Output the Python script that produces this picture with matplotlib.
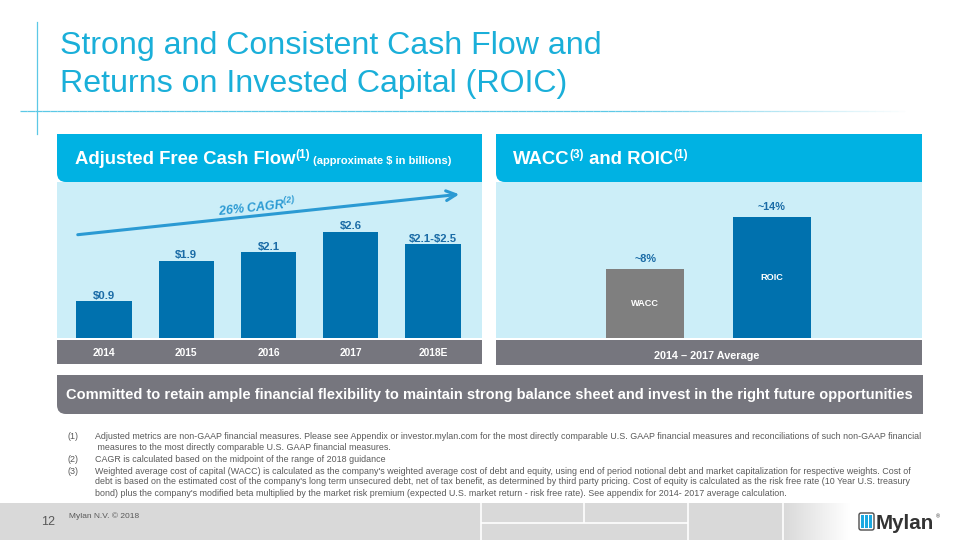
import numpy as np
import matplotlib
matplotlib.use("Agg")
import matplotlib.pyplot as plt
from matplotlib.path import Path
from matplotlib.patches import PathPatch, Rectangle, FancyBboxPatch
from matplotlib.collections import LineCollection
from matplotlib.colors import LinearSegmentedColormap, to_rgba

plt.rcParams["font.family"] = ["Liberation Sans", "DejaVu Sans"]
plt.rcParams["mathtext.fontset"] = "custom"
plt.rcParams["mathtext.rm"] = "Liberation Sans:italic:bold"

# data
years = ["2014", "2015", "2016", "2017", "2018E"]
fcf = [0.9, 1.9, 2.1, 2.6, 2.3]          # 2018E drawn at midpoint of guidance
fcf_labels = ["$0.9", "$1.9", "$2.1", "$2.6", "$2.1-$2.5"]
metrics = ["WACC", "ROIC"]
rates = [8, 14]
rate_labels = ["~8%", "~14%"]
footnotes = [
    ("(1)", "Adjusted metrics are non-GAAP financial measures. Please see Appendix or investor.mylan.com for the most directly comparable U.S. GAAP financial measures and reconciliations of such non-GAAP financial"),
    ("", " measures to the most directly comparable U.S. GAAP financial measures."),
    ("(2)", "CAGR is calculated based on the midpoint of the range of 2018 guidance"),
    ("(3)", "Weighted average cost of capital (WACC) is calculated as the company's weighted average cost of debt and equity, using end of period notional debt and market capitalization for respective weights. Cost of"),
    ("", "debt is based on the estimated cost of the company's long term unsecured debt, net of tax benefit, as determined by third party pricing. Cost of equity is calculated as the risk free rate (10 Year U.S. treasury"),
    ("", "bond) plus the company's modified beta multiplied by the market risk premium (expected U.S. market return - risk free rate). See appendix for 2014- 2017 average calculation."),
]

CYAN = "#00B2E3"
LIGHT = "#CCEEF8"
BLUE = "#0071AE"
GREY_BAR = "#7F7F7F"
BAND = "#76767E"
TITLE = "#1AAFD9"
ARROW = "#2B9AD3"
LABEL = "#1A6BA6"
NOTE = "#595959"
FOOT = "#D9D9D9"

W, H = 960, 540
fig = plt.figure(figsize=(9.6, 5.4), dpi=100)
renderer = fig.canvas.get_renderer()


def px_axes(l, t, r, b):
    return fig.add_axes([l / W, 1 - b / H, (r - l) / W, (b - t) / H])


def panel(ax, x0, y0, x1, y1, color, r=9):
    verts = [(x0, y0), (x1, y0), (x1, y1), (x0 + r, y1), (x0, y1), (x0, y1 - r), (x0, y0)]
    codes = [Path.MOVETO, Path.LINETO, Path.LINETO, Path.LINETO,
             Path.CURVE3, Path.CURVE3, Path.CLOSEPOLY]
    ax.add_patch(PathPatch(Path(verts, codes), fc=color, ec="none"))


def width_of(t):
    return t.get_window_extent(renderer).width


def fit(ax, x, y, s, width, **kw):
    t = ax.text(x, y, s, fontsize=10, **kw)
    t.set_fontsize(10 * width / width_of(t))
    return t


def runs(ax, x, y, pieces):
    for s, size, dy in pieces:
        t = ax.text(x, y - dy, s, fontsize=size, color="white", fontweight="bold",
                    va="baseline", parse_math=False)
        x += width_of(t)


bg = fig.add_axes([0, 0, 1, 1])
bg.set_xlim(0, W)
bg.set_ylim(H, 0)
bg.axis("off")

# title block
bg.plot([37, 37], [22, 134], color="#5CC8E6", lw=0.9)
xs = np.linspace(20, 905, 120)
segs = [[(a, 111), (b, 111)] for a, b in zip(xs[:-1], xs[1:])]
alphas = np.clip((905 - xs[:-1]) / 300, 0, 1)
bg.add_collection(LineCollection(segs, colors=[to_rgba("#5CC8E6", a) for a in alphas], lw=0.9))
t1 = fit(bg, 60, 54, "Strong and Consistent Cash Flow and", 542, color=TITLE, va="baseline")
bg.text(60, 92, "Returns on Invested Capital (ROIC)", fontsize=t1.get_fontsize(),
        color=TITLE, va="baseline")

# panel headers
panel(bg, 57, 134, 482, 182, CYAN)
panel(bg, 496, 134, 922, 182, CYAN)
runs(bg, 75, 164, [("Adjusted Free Cash Flow", 13.3, 0), ("(1)", 8.6, 6),
                   (" (approximate $ in billions)", 8.0, 0)])
runs(bg, 513, 164, [("WACC", 13.3, 0), ("(3)", 8.6, 6), (" and ROIC", 13.3, 0), ("(1)", 8.6, 6)])

# grey category bands
bg.add_patch(Rectangle((57, 340), 425, 24, fc=BAND, ec="none"))
bg.add_patch(Rectangle((496, 340), 426, 25, fc=BAND, ec="none"))
bg.text(707, 356, "2014 \u2013 2017 Average", fontsize=7.8, color="white",
        fontweight="bold", ha="center", va="center")

# bottom banner
panel(bg, 57, 375, 923, 414, BAND)
fit(bg, 489.5, 395, "Committed to retain ample financial flexibility to maintain strong "
    "balance sheet and invest in the right future opportunities", 845,
    color="white", fontweight="bold", ha="center", va="center")

# footnotes
note_y = [436.5, 448, 459.5, 471, 482, 493]
fn = fit(bg, 95, note_y[0], footnotes[0][1], 826, color=NOTE, va="center")
for (num, txt), y in zip(footnotes, note_y):
    if num:
        bg.text(68, y, num, fontsize=fn.get_fontsize(), color=NOTE, va="center")
    if y != note_y[0]:
        bg.text(95, y, txt, fontsize=fn.get_fontsize(), color=NOTE, va="center")

# footer: grey strip, white tile seams, fade to white under the logo
bg.fill_between([0, 784], 503, 540, color=FOOT, lw=0, zorder=2)
seams = [[(480.5, 503), (480.5, 540)], [(584, 503), (584, 523)],
         [(688, 503), (688, 540)], [(782.5, 503), (782.5, 540)],
         [(481, 523), (688, 523)]]
bg.add_collection(LineCollection(seams, colors="white", lw=1.2, zorder=3))
fade = LinearSegmentedColormap.from_list("fade", [FOOT, "#FFFFFF"])
bg.imshow(np.linspace(0, 1, 100)[None, :], cmap=fade, extent=(783, 850, 540, 503),
          aspect="auto", zorder=2)
bg.text(48, 522, "12", fontsize=9, color=NOTE, ha="center", va="center", zorder=4)
bg.text(69, 516, "Mylan N.V. \u00a9 2018", fontsize=6, color=NOTE, va="center", zorder=4)
bg.add_patch(FancyBboxPatch((859, 513), 15, 17, boxstyle="round,pad=0,rounding_size=2",
                            fc="white", ec="#4D4D4D", lw=1, zorder=4))
for bx in [861.3, 865.3, 869.3]:
    bg.add_patch(Rectangle((bx, 515), 2.6, 13, fc="#1BA9E1", ec="none", zorder=5))
fit(bg, 876, 529, "Mylan", 58, color="#333333", fontweight="bold", va="baseline", zorder=4)
bg.text(936, 517, "\u00ae", fontsize=4, color="#333333", va="center", zorder=4)
bg.set_xlim(0, W)
bg.set_ylim(H, 0)

# adjusted free cash flow bars
ax1 = px_axes(57, 182, 482, 338)
ax1.set_facecolor(LIGHT)
xpos = np.arange(len(years))
ax1.bar(xpos, fcf, width=0.67, color=BLUE)
ax1.set_xlim(-0.571, 4.595)
ax1.set_ylim(0, 3.83)
ax1.set_yticks([])
ax1.set_xticks(xpos, years)
ax1.tick_params(axis="x", length=0, pad=7.5, labelsize=7.4, labelcolor="white")
for lab in ax1.get_xticklabels():
    lab.set_fontweight("bold")
for s in ax1.spines.values():
    s.set_visible(False)
for i, (v, lab) in enumerate(zip(fcf, fcf_labels)):
    ax1.annotate(lab, (i, v), xytext=(0, 2), textcoords="offset points", ha="center",
                 va="baseline", fontsize=8.2, fontweight="bold", color=LABEL,
                 parse_math=False)

# WACC / ROIC bars
ax2 = px_axes(496, 182, 922, 338)
ax2.set_facecolor(LIGHT)
mpos = np.arange(len(metrics))
ax2.bar(mpos, rates, width=0.62, color=[GREY_BAR, BLUE])
ax2.set_xlim(-1.177, 2.185)
ax2.set_ylim(0, 18.0)
ax2.set_xticks([])
ax2.set_yticks([])
for s in ax2.spines.values():
    s.set_visible(False)
for i, (v, lab, name) in enumerate(zip(rates, rate_labels, metrics)):
    ax2.annotate(lab, (i, v), xytext=(0, 5), textcoords="offset points", ha="center",
                 va="baseline", fontsize=7.8, fontweight="bold", color=LABEL)
    ax2.text(i, v / 2, name, ha="center", va="center", fontsize=6.6,
             fontweight="bold", color="white")

# growth arrow overlay
fg = fig.add_axes([0, 0, 1, 1])
fg.set_xlim(0, W)
fg.set_ylim(H, 0)
fg.axis("off")
fg.patch.set_alpha(0)
fg.annotate("", xy=(462, 194), xytext=(75, 235),
            arrowprops=dict(arrowstyle="->,head_length=0.7,head_width=0.35",
                            color=ARROW, lw=2.2))
fg.text(257, 207, "26% CAGR$^{\\mathrm{(2)}}$", rotation=6, rotation_mode="anchor",
        ha="center", va="center", fontsize=9, fontweight="bold", style="italic",
        color=ARROW)

fig.savefig("out.png", dpi=100)
